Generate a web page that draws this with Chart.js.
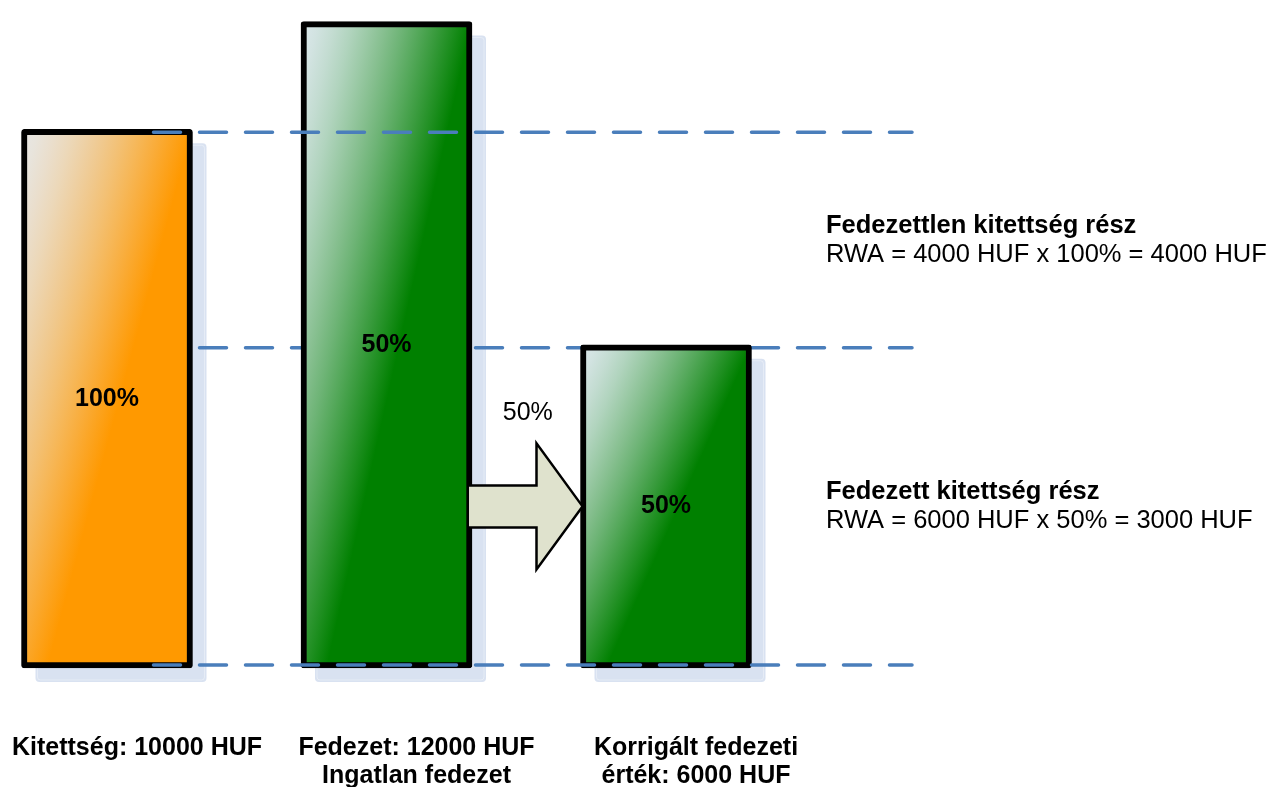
<!DOCTYPE html>
<html>
<head>
<meta charset="utf-8">
<script src="https://cdn.jsdelivr.net/npm/chart.js@4.4.1/dist/chart.umd.min.js"></script>
<style>
  html, body { margin: 0; padding: 0; background: #ffffff; overflow: hidden; }
  canvas { display: block; }
</style>
</head>
<body>
<canvas id="chart" width="1268" height="787"></canvas>
<script>
// Exposure, collateral and adjusted collateral value (HUF)
const categories = [
  ['Kitettség: 10000 HUF'],
  ['Fedezet: 12000 HUF', 'Ingatlan fedezet'],
  ['Korrigált fedezeti', 'érték: 6000 HUF']
];
const amounts = [10000, 12000, 6000];
const riskWeights = ['100%', '50%', '50%'];
const haircutLabel = '50%';
// Levels of the dashed guide lines: exposure top, collateral-covered part, zero
const guideLevels = [10000, 6000, 0];
const partHeadings = ['Fedezettlen kitettség rész', 'Fedezett kitettség rész'];
const partFormulas = ['RWA = 4000 HUF x 100% = 4000 HUF', 'RWA = 6000 HUF x 50% = 3000 HUF'];

const FONT = '"Liberation Sans", Arial, sans-serif';
const fullColors = [[255, 153, 0], [0, 128, 0], [0, 128, 0]];
const paleColors = [[231, 231, 230], [220, 232, 236], [220, 232, 236]];
const BAR_W = 171;
const BORDER = 6;

function mix(a, b, t) {
  return 'rgb(' + a.map((c, k) => Math.round(c + (b[k] - c) * t)).join(',') + ')';
}

// Gradient laid out in the bar's own box: pale in the top-left corner,
// reaching the full colour towards the right and the bottom.
function barGradient(ctx) {
  const chart = ctx.chart;
  const i = ctx.dataIndex;
  if (!chart.chartArea || i === undefined) return mix(fullColors[i || 0], fullColors[i || 0], 0);
  const { x, y } = chart.scales;
  const cx = x.getPixelForValue(i);
  const top = y.getPixelForValue(amounts[i]);
  const h = y.getPixelForValue(0) - top;
  const w = BAR_W;
  const gx = 1.0 / w, gy = 0.85 / h;
  const n = gx * gx + gy * gy;
  const x0 = cx - w / 2;
  const g = chart.ctx.createLinearGradient(x0, top, x0 + gx / n, top + gy / n);
  for (let k = 0; k <= 10; k++) {
    const s = k / 10;
    g.addColorStop(s, mix(paleColors[i], fullColors[i], Math.pow(s, 1.35)));
  }
  return g;
}

function roundRectPath(ctx, x, y, w, h, r) {
  ctx.beginPath();
  ctx.moveTo(x + r, y);
  ctx.lineTo(x + w - r, y);
  ctx.quadraticCurveTo(x + w, y, x + w, y + r);
  ctx.lineTo(x + w, y + h - r);
  ctx.quadraticCurveTo(x + w, y + h, x + w - r, y + h);
  ctx.lineTo(x + r, y + h);
  ctx.quadraticCurveTo(x, y + h, x, y + h - r);
  ctx.lineTo(x, y + r);
  ctx.quadraticCurveTo(x, y, x + r, y);
  ctx.closePath();
}

// Pixel of a guide level, centred on the bar border it runs along
function guideY(scale, v) {
  return scale.getPixelForValue(v) + (v > 0 ? BORDER / 2 : -BORDER / 2);
}

function drawGuide(ctx, scale, v) {
  const py = guideY(scale, v);
  ctx.save();
  ctx.strokeStyle = '#4a7ebb';
  ctx.lineWidth = 3.5;
  ctx.lineCap = 'round';
  ctx.setLineDash([27, 19]);
  ctx.beginPath();
  ctx.moveTo(153.5, py);
  ctx.lineTo(912, py);
  ctx.stroke();
  ctx.restore();
}

const decorations = {
  id: 'decorations',
  beforeDatasetsDraw(chart) {
    const { ctx, scales } = chart;
    const bars = chart.getDatasetMeta(0).data;
    // drop shadows
    ctx.save();
    bars.forEach(b => {
      roundRectPath(ctx, b.x - b.width / 2 + 14, b.y + 14, b.width, b.base - b.y, 4);
      ctx.fillStyle = '#d9e2f1';
      ctx.fill();
      roundRectPath(ctx, b.x - b.width / 2 + 16, b.y + 16, b.width - 4, b.base - b.y - 4, 3);
      ctx.strokeStyle = 'rgba(255,255,255,0.35)';
      ctx.lineWidth = 1;
      ctx.stroke();
    });
    ctx.restore();
    // middle guide runs behind the bars
    drawGuide(ctx, scales.y, guideLevels[1]);
  },
  afterDatasetsDraw(chart) {
    const { ctx, scales } = chart;
    const bars = chart.getDatasetMeta(0).data;
    drawGuide(ctx, scales.y, guideLevels[0]);
    drawGuide(ctx, scales.y, guideLevels[2]);

    // arrow from the collateral bar to the adjusted collateral bar
    const b2 = bars[1], b3 = bars[2];
    const x0 = b2.x + b2.width / 2 - BORDER / 2;
    const tip = b3.x - b3.width / 2 + 2;
    const cy = (b3.y + b3.base) / 2;
    const headX = tip - 46;
    ctx.save();
    ctx.fillStyle = '#dfe2cd';
    ctx.strokeStyle = '#000000';
    ctx.lineWidth = 2.5;
    ctx.lineJoin = 'miter';
    ctx.beginPath();
    ctx.moveTo(x0, cy - 21);
    ctx.lineTo(headX, cy - 21);
    ctx.lineTo(headX, cy - 63);
    ctx.lineTo(tip, cy);
    ctx.lineTo(headX, cy + 63);
    ctx.lineTo(headX, cy + 21);
    ctx.lineTo(x0, cy + 21);
    ctx.fill();
    ctx.stroke();

    ctx.fillStyle = '#000000';
    ctx.textAlign = 'center';
    ctx.textBaseline = 'middle';
    ctx.font = '25px ' + FONT;
    ctx.fillText(haircutLabel, (x0 + tip) / 2 + 2, cy - 93);

    // risk weights inside the bars
    ctx.font = 'bold 25px ' + FONT;
    bars.forEach((b, i) => {
      ctx.fillText(riskWeights[i], b.x, (b.y + b.base) / 2);
    });

    // explanation of the two exposure parts
    ctx.textAlign = 'left';
    const yTop = guideY(scales.y, guideLevels[0]);
    const yMid = guideY(scales.y, guideLevels[1]);
    const yBot = guideY(scales.y, guideLevels[2]);
    const centres = [(yTop + yMid) / 2, (yMid + yBot) / 2];
    centres.forEach((c, i) => {
      ctx.font = 'bold 25.5px ' + FONT;
      ctx.fillText(partHeadings[i], 826, c - 14);
      ctx.font = '25.5px ' + FONT;
      ctx.fillText(partFormulas[i], 826, c + 15);
    });
    ctx.restore();
  }
};

new Chart(document.getElementById('chart'), {
  type: 'bar',
  data: {
    labels: categories,
    datasets: [{
      data: amounts,
      backgroundColor: barGradient,
      borderColor: '#000000',
      borderWidth: BORDER,
      borderSkipped: false,
      borderRadius: 3,
      barThickness: BAR_W,
      clip: false
    }]
  },
  options: {
    responsive: false,
    devicePixelRatio: 1,
    animation: false,
    layout: { padding: { left: 107, right: 602, top: 0, bottom: 0 } },
    plugins: { legend: { display: false }, tooltip: { enabled: false } },
    scales: {
      x: {
        type: 'category',
        offset: false,
        grid: { display: false, drawTicks: false, offset: false },
        border: { display: false },
        ticks: {
          color: '#000000',
          font: { family: FONT, size: 25, weight: 'bold', lineHeight: 1.12 },
          padding: 66,
          labelOffset: 30,
          maxRotation: 0,
          autoSkip: false
        },
        afterFit(scale) {
          scale.paddingLeft = 0;
          scale.paddingRight = 0;
          scale.height = 119;
        }
      },
      y: {
        display: false,
        min: 0,
        max: 12400
      }
    }
  },
  plugins: [decorations]
});
</script>
</body>
</html>
